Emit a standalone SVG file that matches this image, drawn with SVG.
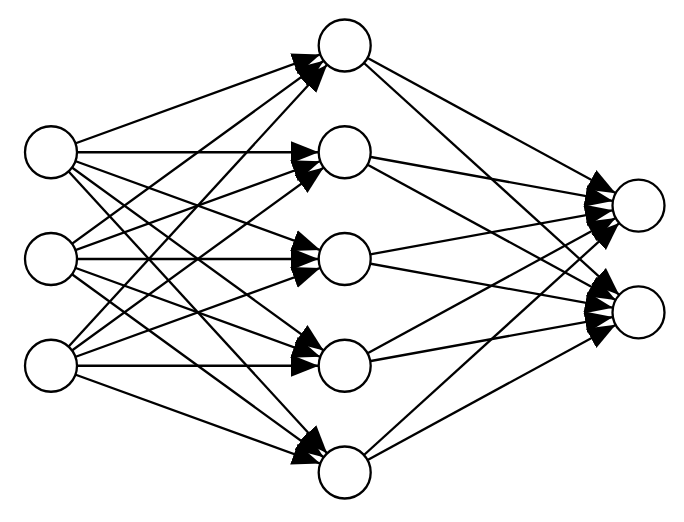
<svg xmlns="http://www.w3.org/2000/svg" width="684" height="522" viewBox="0 0 684 522">
<style>
.e{stroke:#000;stroke-width:2.3;fill:none;marker-end:url(#ah)}
.n{fill:#fff;stroke:#000;stroke-width:2.3}
</style>
<defs>
<marker id="ah" markerUnits="userSpaceOnUse" markerWidth="56" markerHeight="24" refX="54" refY="11.5" orient="auto" viewBox="0 0 56 24">
<path d="M0,0.5 L28,11.5 L0,22.5 z" fill="#000"/>
</marker>
</defs>
<rect width="684" height="522" fill="#fff"/>
<g id="connectors">
<line class="e" x1="51" y1="152.25" x2="344.7" y2="45.5"/>
<line class="e" x1="51" y1="152.25" x2="344.7" y2="152.25"/>
<line class="e" x1="51" y1="152.25" x2="344.7" y2="259"/>
<line class="e" x1="51" y1="152.25" x2="344.7" y2="365.75"/>
<line class="e" x1="51" y1="152.25" x2="344.7" y2="472.5"/>
<line class="e" x1="51" y1="259" x2="344.7" y2="45.5"/>
<line class="e" x1="51" y1="259" x2="344.7" y2="152.25"/>
<line class="e" x1="51" y1="259" x2="344.7" y2="259"/>
<line class="e" x1="51" y1="259" x2="344.7" y2="365.75"/>
<line class="e" x1="51" y1="259" x2="344.7" y2="472.5"/>
<line class="e" x1="51" y1="365.75" x2="344.7" y2="45.5"/>
<line class="e" x1="51" y1="365.75" x2="344.7" y2="152.25"/>
<line class="e" x1="51" y1="365.75" x2="344.7" y2="259"/>
<line class="e" x1="51" y1="365.75" x2="344.7" y2="365.75"/>
<line class="e" x1="51" y1="365.75" x2="344.7" y2="472.5"/>
<line class="e" x1="344.7" y1="45.5" x2="638.5" y2="205.6"/>
<line class="e" x1="344.7" y1="45.5" x2="638.5" y2="312.4"/>
<line class="e" x1="344.7" y1="152.25" x2="638.5" y2="205.6"/>
<line class="e" x1="344.7" y1="152.25" x2="638.5" y2="312.4"/>
<line class="e" x1="344.7" y1="259" x2="638.5" y2="205.6"/>
<line class="e" x1="344.7" y1="259" x2="638.5" y2="312.4"/>
<line class="e" x1="344.7" y1="365.75" x2="638.5" y2="205.6"/>
<line class="e" x1="344.7" y1="365.75" x2="638.5" y2="312.4"/>
<line class="e" x1="344.7" y1="472.5" x2="638.5" y2="205.6"/>
<line class="e" x1="344.7" y1="472.5" x2="638.5" y2="312.4"/>
</g>
<g id="i1"><circle class="n" cx="51" cy="152.25" r="26"/></g>
<g id="i2"><circle class="n" cx="51" cy="259" r="26"/></g>
<g id="i3"><circle class="n" cx="51" cy="365.75" r="26"/></g>
<g id="h1"><circle class="n" cx="344.7" cy="45.5" r="26"/></g>
<g id="h2"><circle class="n" cx="344.7" cy="152.25" r="26"/></g>
<g id="h3"><circle class="n" cx="344.7" cy="259" r="26"/></g>
<g id="h4"><circle class="n" cx="344.7" cy="365.75" r="26"/></g>
<g id="h5"><circle class="n" cx="344.7" cy="472.5" r="26"/></g>
<g id="o1"><circle class="n" cx="638.5" cy="205.6" r="26"/></g>
<g id="o2"><circle class="n" cx="638.5" cy="312.4" r="26"/></g>
</svg>
